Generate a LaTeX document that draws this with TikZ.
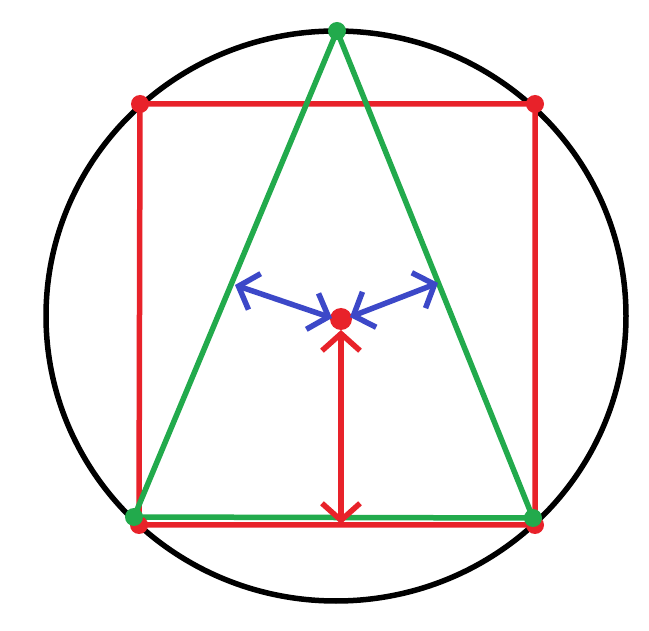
\documentclass[tikz,border=0pt]{standalone}
\usetikzlibrary{arrows.meta}
\definecolor{cred}{RGB}{232,34,42}
\definecolor{cgreen}{RGB}{34,170,76}
\definecolor{cblue}{RGB}{60,72,200}
\tikzset{
  ln/.style={line width=5.5pt, line cap=round, line join=round},
  dotpt/.style={circle, inner sep=0pt, minimum size=18pt},
  barb/.style={{Straight Barb[length=17pt,width=38pt,line width=5.5pt]}-{Straight Barb[length=17pt,width=38pt,line width=5.5pt]}},
}
\begin{document}
\begin{tikzpicture}[x=1pt,y=-1pt]
\useasboundingbox (0,0) rectangle (649,631);
\fill[white] (0,0) rectangle (649,631);
% circle
\coordinate (O) at (336,316);
\draw[ln, black] (O) ellipse [x radius=290, y radius=285];
% square corners
\coordinate (s1) at (140,104);
\coordinate (s2) at (535,104);
\coordinate (s3) at (535,525);
\coordinate (s4) at (139,525);
\draw[ln, cred] (s1) -- (s2) -- (s3) -- (s4) -- cycle;
% triangle
\coordinate (t1) at (337,31);
\coordinate (t2) at (533,518);
\coordinate (t3) at (134,517);
\draw[ln, cgreen] (t1) -- (t2) -- (t3) -- cycle;
% dots
\foreach \p in {s1,s2,s3,s4} \node[dotpt, fill=cred] at (\p) {};
\foreach \p in {t1,t2,t3} \node[dotpt, fill=cgreen] at (\p) {};
\node[dotpt, fill=cred, minimum size=22pt] (c) at (341,319) {};
% arrows
\coordinate (bl) at (235,285);
\coordinate (br) at (438,283);
\coordinate (cl) at (332,318);
\coordinate (cr) at (350,317);
\coordinate (ct) at (341,330);
\coordinate (cb) at (341,524);
\draw[ln, cblue, barb] (cl) -- (bl);
\draw[ln, cblue, barb] (cr) -- (br);
\draw[ln, cred, barb] (ct) -- (cb);
\end{tikzpicture}
\end{document}
